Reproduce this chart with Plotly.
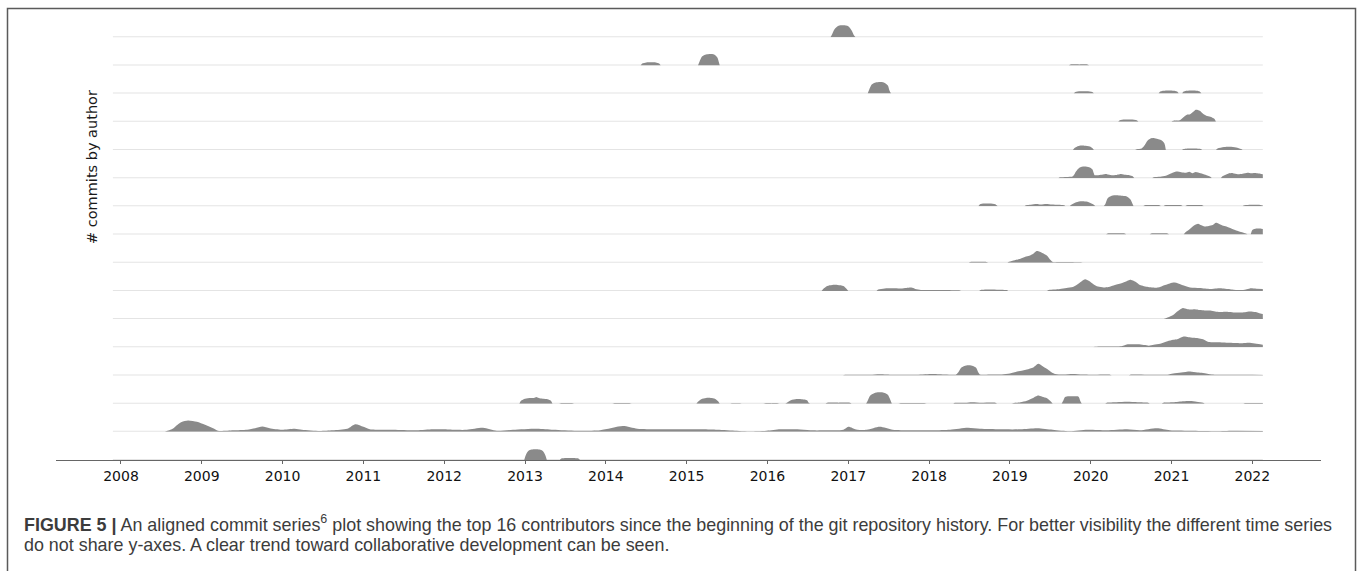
import plotly.graph_objects as go
from plotly.subplots import make_subplots

# Commit activity (smoothed commits per week) for the 16 most active authors,
# listed from the top row to the bottom row. Dates are decimal years.
YEARS = list(range(2008, 2023))
HISTORY_START, HISTORY_END = 2007.90, 2022.13

t0 = [2016.78, 2016.80, 2016.83, 2016.88, 2016.94, 2017.00, 2017.04, 2017.07, 2017.09]
v0 = [0, 3, 8, 11.5, 12, 11, 7, 2, 0]

t1 = [2014.43, 2014.45, 2014.50, 2014.56, 2014.62, 2014.66, 2014.68,
      2015.14, 2015.16, 2015.19, 2015.24, 2015.29, 2015.34, 2015.38, 2015.40, 2015.41,
      2019.73, 2019.75, 2019.86, 2019.96, 2019.98]
v1 = [0, 2, 3, 3.2, 3, 2, 0,
      0, 4, 9, 11, 11.5, 11, 8, 3, 0,
      0, 0.8, 1, 0.8, 0]

t2 = [2017.24, 2017.26, 2017.29, 2017.34, 2017.39, 2017.44, 2017.49, 2017.51, 2017.53,
      2019.79, 2019.81, 2019.87, 2019.95, 2020.02, 2020.04,
      2020.84, 2020.86, 2020.93, 2021.00, 2021.07, 2021.09,
      2021.13, 2021.15, 2021.22, 2021.29, 2021.35, 2021.37]
v2 = [0, 4, 9, 11, 11.5, 11, 8, 3, 0,
      0, 1.5, 2.3, 2.3, 1.5, 0,
      0, 2, 3, 3, 2, 0,
      0, 2, 3, 3, 2, 0]

t3 = [2020.34, 2020.36, 2020.42, 2020.50, 2020.57, 2020.59,
      2021.00, 2021.02, 2021.10, 2021.17, 2021.19, 2021.23, 2021.27, 2021.30, 2021.35,
      2021.39, 2021.43, 2021.48, 2021.53, 2021.55]
v3 = [0, 1.5, 2.2, 2.2, 1.5, 0,
      0, 1, 1.5, 6, 7, 7.5, 10, 12, 11,
      8, 6, 5, 3, 0]

t4 = [2019.78, 2019.80, 2019.85, 2019.92, 2019.99, 2020.02, 2020.04,
      2020.55, 2020.57, 2020.63, 2020.67, 2020.70, 2020.74, 2020.78, 2020.83, 2020.87, 2020.91, 2020.93,
      2021.13, 2021.15, 2021.25, 2021.36, 2021.38,
      2021.55, 2021.57, 2021.65, 2021.72, 2021.80, 2021.86, 2021.88]
v4 = [0, 2, 4, 4.3, 3.5, 2, 0,
      0, 0.8, 1.5, 5, 9, 11.5, 12, 11, 10, 7, 0,
      0, 1, 1.5, 1, 0,
      0, 1.5, 3, 3.3, 2.5, 1, 0]

t5 = [2019.60, 2019.62, 2019.70, 2019.78, 2019.82, 2019.86, 2019.92, 2019.98, 2020.02, 2020.05,
      2020.08, 2020.14, 2020.20, 2020.26, 2020.31, 2020.36, 2020.42, 2020.48, 2020.52, 2020.54,
      2020.76, 2020.78, 2020.86, 2020.93, 2021.00, 2021.06, 2021.12, 2021.18, 2021.22, 2021.26,
      2021.30, 2021.36, 2021.42, 2021.48, 2021.50,
      2021.61, 2021.63, 2021.70, 2021.76, 2021.82, 2021.88, 2021.94, 2021.99, 2022.05, 2022.10, 2022.13]
v5 = [0, 0.8, 1.2, 2, 7, 10.5, 11.6, 11, 9, 3,
      3, 3.5, 4, 3, 3.2, 4, 3.5, 3, 2, 0,
      0, 1, 1.5, 2.5, 5, 6.6, 6, 5.5, 6.5, 5,
      6.2, 5, 3.5, 1.5, 0,
      0, 2, 4.5, 5, 4, 4.5, 5.5, 5, 5, 4.5, 4]

t6 = [2018.61, 2018.63, 2018.68, 2018.75, 2018.82, 2018.85,
      2019.18, 2019.20, 2019.26, 2019.33, 2019.38, 2019.45, 2019.52, 2019.60, 2019.67, 2019.69,
      2019.74, 2019.76, 2019.82, 2019.89, 2019.96, 2020.03, 2020.06,
      2020.16, 2020.18, 2020.21, 2020.26, 2020.32, 2020.38, 2020.44, 2020.49, 2020.52, 2020.53,
      2020.65, 2020.67, 2020.76, 2020.85, 2020.87,
      2020.90, 2020.92, 2021.02, 2021.12, 2021.14,
      2021.17, 2021.19, 2021.28, 2021.38, 2021.40,
      2021.88, 2021.90, 2022.00, 2022.10, 2022.13]
v6 = [0, 2, 2.7, 2.7, 2, 0,
      0, 1, 1.5, 2.3, 1.8, 2.3, 1.8, 1.5, 1, 0,
      0, 1.5, 4, 5, 4.5, 2, 0,
      0, 2, 8, 10.5, 11, 10.5, 10, 7, 2, 0,
      0, 1, 1.2, 1, 0,
      0, 1, 1.2, 1, 0,
      0, 1, 1.2, 1, 0,
      0, 1, 1.5, 1.3, 0.8]

t7 = [2020.19, 2020.21, 2020.31, 2020.42, 2020.44,
      2020.73, 2020.75, 2020.85, 2020.95, 2020.97,
      2021.15, 2021.17, 2021.22, 2021.27, 2021.33, 2021.36, 2021.41, 2021.46, 2021.51,
      2021.55, 2021.58, 2021.63, 2021.68, 2021.74, 2021.80, 2021.86, 2021.92, 2021.94,
      2021.98, 2022.00, 2022.05, 2022.10, 2022.13]
v7 = [0, 1, 1.2, 1, 0,
      0, 1, 1.2, 1, 0,
      0, 2, 5, 8.5, 10.7, 9.5, 8, 8.5, 9.5,
      11.7, 11, 9, 8, 6, 4, 2.5, 1, 0,
      0, 4.5, 6, 6, 5.5]

t8 = [2018.49, 2018.51, 2018.60, 2018.71, 2018.73,
      2018.97, 2018.99, 2019.06, 2019.13, 2019.19, 2019.24, 2019.29, 2019.33, 2019.37,
      2019.41, 2019.46, 2019.50, 2019.53, 2019.60, 2019.70, 2019.80, 2019.88, 2019.90]
v8 = [0, 0.8, 1, 0.8, 0,
      0, 1, 2.5, 4, 6, 7, 9, 11.7, 11,
      9.5, 7, 3, 0.8, 0.6, 0.6, 0.5, 0.4, 0]

t9 = [2016.67, 2016.69, 2016.74, 2016.80, 2016.87, 2016.94, 2016.98, 2017.00,
      2017.35, 2017.37, 2017.45, 2017.55, 2017.65, 2017.72, 2017.78, 2017.83, 2017.90,
      2018.00, 2018.10, 2018.20, 2018.30, 2018.38, 2018.40,
      2018.62, 2018.64, 2018.75, 2018.86, 2018.96, 2018.98,
      2019.46, 2019.48, 2019.55, 2019.62, 2019.70, 2019.78, 2019.86, 2019.93, 2019.98, 2020.03,
      2020.09, 2020.16, 2020.22, 2020.30, 2020.39, 2020.45, 2020.50, 2020.56, 2020.61, 2020.71,
      2020.77, 2020.83, 2020.92, 2020.98, 2021.04, 2021.13, 2021.23, 2021.35, 2021.48, 2021.56,
      2021.63, 2021.70, 2021.75, 2021.85, 2021.92, 2021.97, 2022.05, 2022.13]
v9 = [0, 2, 5, 6, 6, 5, 2, 0,
      0, 1.5, 2.5, 2.7, 2.5, 3, 3.3, 2, 1,
      1, 0.8, 0.8, 0.6, 0.5, 0,
      0, 1, 1.5, 1.2, 0.8, 0,
      0, 1, 1.5, 2, 3, 4, 8, 11.7, 10, 7,
      4.3, 3.5, 4, 6, 8, 10, 11, 9, 6, 4,
      3.5, 3.3, 6, 7.5, 8.3, 6, 3.5, 3, 2, 2.5,
      2.5, 2, 1.5, 0.8, 1.5, 2.5, 2.2, 2]

t10 = [2020.90, 2020.92, 2020.97, 2021.02, 2021.08, 2021.14, 2021.19, 2021.23, 2021.29, 2021.35,
       2021.41, 2021.48, 2021.54, 2021.60, 2021.66, 2021.72, 2021.78, 2021.85, 2021.91, 2021.97,
       2022.04, 2022.10, 2022.13]
v10 = [0, 0.5, 2, 4, 8, 11, 10, 9.5, 9.8, 9,
       8.6, 8.5, 7.5, 7, 7.3, 7, 6.5, 6.5, 6.8, 7.6,
       7, 5.5, 5]

t11 = [2020.03, 2020.05, 2020.20, 2020.38, 2020.40, 2020.46, 2020.53, 2020.62, 2020.69, 2020.72,
       2020.78, 2020.86, 2020.95, 2021.02, 2021.07, 2021.15, 2021.21, 2021.27, 2021.33, 2021.39,
       2021.45, 2021.50, 2021.56, 2021.64, 2021.72, 2021.80, 2021.85, 2021.91, 2021.97, 2022.05,
       2022.13]
v11 = [0, 0.5, 0.8, 1, 1.5, 3, 3, 2.8, 2, 1.5,
       2.5, 3.5, 6, 7.5, 8, 10.7, 10, 9.5, 9, 8,
       5.5, 5, 5, 4.8, 4.5, 4.2, 4, 4.3, 4.5, 3.5,
       2.5]

t12 = [2016.93, 2016.95, 2017.10, 2017.27, 2017.39, 2017.55, 2017.70, 2017.85, 2018.05, 2018.20,
       2018.33, 2018.36, 2018.40, 2018.46, 2018.52, 2018.58, 2018.61, 2018.63, 2018.75, 2018.90,
       2019.00, 2019.09, 2019.16, 2019.21, 2019.29, 2019.35, 2019.41, 2019.47, 2019.52, 2019.56,
       2019.66, 2019.78, 2019.90, 2020.05, 2020.24, 2020.26,
       2020.47, 2020.49, 2020.70, 2020.95, 2021.02, 2021.12, 2021.23, 2021.32, 2021.39, 2021.50,
       2021.65, 2021.80, 2022.00, 2022.13]
v12 = [0, 0.5, 0.6, 0.8, 1.3, 0.8, 0.8, 0.8, 1.5, 1,
       0.8, 3, 8, 10, 10, 8, 3, 1, 1, 1,
       2, 4, 5, 6, 8, 11.7, 9, 6, 3, 1.5,
       1, 1.5, 1, 0.8, 0.8, 0,
       0, 0.7, 0.7, 0.8, 2, 3, 4, 3, 2.5, 1,
       0.6, 0.6, 0.6, 0.5]

t13 = [2012.93, 2012.95, 2013.00, 2013.07, 2013.11, 2013.14, 2013.17, 2013.22, 2013.28, 2013.32, 2013.34,
       2013.42, 2013.44, 2013.52, 2013.59, 2013.61,
       2014.08, 2014.10, 2014.20, 2014.30, 2014.32,
       2015.12, 2015.14, 2015.18, 2015.24, 2015.30, 2015.35, 2015.39, 2015.41,
       2015.54, 2015.56, 2015.61, 2015.66, 2015.68,
       2015.95, 2015.97, 2016.05, 2016.13, 2016.15,
       2016.22, 2016.24, 2016.29, 2016.36, 2016.43, 2016.49, 2016.51, 2016.53,
       2016.72, 2016.74, 2016.88, 2017.02, 2017.04,
       2017.22, 2017.24, 2017.27, 2017.32, 2017.38, 2017.44, 2017.49, 2017.52, 2017.54,
       2017.62, 2017.64, 2017.80, 2017.95, 2017.97,
       2018.30, 2018.32, 2018.45, 2018.53, 2018.65, 2018.82, 2018.84,
       2019.02, 2019.04, 2019.13, 2019.21, 2019.28, 2019.34, 2019.40, 2019.46, 2019.51, 2019.53,
       2019.64, 2019.66, 2019.68, 2019.73, 2019.79, 2019.85, 2019.87, 2019.89,
       2020.18, 2020.20, 2020.32, 2020.45, 2020.58, 2020.71, 2020.73,
       2020.88, 2020.90, 2021.02, 2021.15, 2021.23, 2021.31, 2021.39, 2021.41,
       2021.89, 2021.91, 2022.02, 2022.13]
v13 = [0, 3, 5, 5.7, 5.7, 6.7, 5.7, 5, 4.5, 3, 0,
       0, 0.5, 0.6, 0.5, 0,
       0, 0.5, 0.6, 0.5, 0,
       0, 2, 4.5, 5.7, 5.7, 5, 2.5, 0,
       0, 0.3, 0.4, 0.3, 0,
       0, 0.4, 0.5, 0.4, 0,
       0, 1, 3.5, 4.7, 4.5, 3.5, 1, 0,
       0, 0.8, 1, 0.8, 0,
       0, 3, 8, 10.5, 11.3, 11, 9, 4, 0,
       0, 0.5, 0.6, 0.5, 0,
       0, 0.8, 1, 1.5, 1, 0.8, 0,
       0, 0.5, 1.5, 3, 5.5, 8, 7, 5.5, 2, 0,
       0, 3, 6.5, 7.3, 7.3, 7, 3, 0,
       0, 1, 1.5, 2, 1.5, 1, 0,
       0, 1, 1.5, 2.5, 2.7, 2, 1, 0,
       0, 0.6, 0.6, 0.6]

t14 = [2008.54, 2008.56, 2008.64, 2008.70, 2008.75, 2008.83, 2008.94, 2009.04, 2009.14, 2009.20,
       2009.39, 2009.56, 2009.66, 2009.75, 2009.84, 2009.99, 2010.15, 2010.24, 2010.46, 2010.62,
       2010.80, 2010.90, 2011.00, 2011.08, 2011.37, 2011.66, 2011.86, 2011.99, 2012.13, 2012.28,
       2012.48, 2012.65, 2012.85, 2013.15, 2013.35, 2013.64, 2013.93, 2014.21, 2014.39, 2014.63,
       2014.96, 2015.20, 2015.38, 2015.62, 2015.75, 2015.99, 2016.16, 2016.37, 2016.53, 2016.74,
       2016.94, 2017.00, 2017.11, 2017.23, 2017.39, 2017.55, 2017.76, 2018.05, 2018.26, 2018.48,
       2018.63, 2018.88, 2019.13, 2019.34, 2019.53, 2019.74, 2019.96, 2020.20, 2020.45, 2020.61,
       2020.82, 2020.98, 2021.27, 2021.56, 2021.76, 2022.13]
v14 = [0, 0.5, 3, 7, 9.7, 11.3, 10, 7, 3.5, 1,
       1.5, 2, 3.5, 5.3, 3.5, 2, 3, 2, 0.8, 1.5,
       3, 7.6, 5, 2.5, 2, 1.5, 2.5, 2.5, 2, 2,
       4, 1, 2, 3, 2, 1, 1.5, 5.7, 3, 2.5,
       2.5, 2.5, 2, 1, 0.3, 1, 2.5, 2.5, 1.5, 1.5,
       2, 5, 2, 2, 5, 2, 1.5, 1.5, 2, 4,
       3, 2.5, 2.5, 3.5, 2, 0.5, 2, 1.5, 2.5, 1.5,
       3.5, 1.5, 1, 0.5, 1, 0.8]

t15 = [2012.99, 2013.01, 2013.04, 2013.08, 2013.13, 2013.18, 2013.22, 2013.25, 2013.27,
       2013.43, 2013.45, 2013.56, 2013.66, 2013.68]
v15 = [0, 5, 9, 10.5, 10.8, 10.5, 9, 5, 0,
       0, 1.5, 2, 1.5, 0]

authors = [(t0, v0), (t1, v1), (t2, v2), (t3, v3), (t4, v4), (t5, v5), (t6, v6), (t7, v7),
           (t8, v8), (t9, v9), (t10, v10), (t11, v11), (t12, v12), (t13, v13), (t14, v14),
           (t15, v15)]

FILL = "#8a8a8a"
BASELINE = "#e4e4e4"
ROW_YMAX = 28.2
X_RANGE = [2007.196, 2022.85]


def split_idle_gaps(t, v):
    """Insert gaps between bursts of activity (two consecutive zero samples),
    so that each burst is filled on its own."""
    xs, ys = [], []
    for k in range(len(t)):
        xs.append(t[k])
        ys.append(v[k])
        if k + 1 < len(t) and v[k] == 0 and v[k + 1] == 0:
            xs.append(None)
            ys.append(None)
    return xs, ys


n_rows = len(authors)
fig = make_subplots(rows=n_rows, cols=1, shared_xaxes=True, vertical_spacing=0)

for i, (t, v) in enumerate(authors, start=1):
    assert len(t) == len(v)
    xs, ys = split_idle_gaps(t, v)
    # zero line of this author's own axis (half of it falls inside the row)
    fig.add_trace(go.Scatter(x=[HISTORY_START, HISTORY_END], y=[0, 0], mode="lines",
                             line=dict(color=BASELINE, width=2), hoverinfo="skip",
                             showlegend=False), row=i, col=1)
    fig.add_trace(go.Scatter(x=xs, y=ys, mode="lines", fill="tozeroy", fillcolor=FILL,
                             connectgaps=False,
                             line=dict(color=FILL, width=0, shape="spline", smoothing=0.7),
                             showlegend=False), row=i, col=1)
    fig.update_yaxes(range=[0, ROW_YMAX], visible=False, row=i, col=1)
    fig.update_xaxes(range=X_RANGE, showgrid=False, zeroline=False, row=i, col=1)
    if i < n_rows:
        fig.update_xaxes(visible=False, row=i, col=1)

fig.update_xaxes(row=n_rows, col=1, visible=True, showline=True, linecolor="#666666",
                 linewidth=1, ticks="outside", ticklen=3, tickcolor="#666666",
                 tickvals=YEARS, ticktext=[str(y) for y in YEARS],
                 tickfont=dict(family="DejaVu Sans", size=14, color="#111111"))

W, H = 1357, 571
ML, MR, MT, MB = 56, 36, 9, 111
PW, PH = W - ML - MR, H - MT - MB


def px(xp):
    return (xp - ML) / PW


def py(yp):
    return (H - MB - yp) / PH


fig.add_annotation(text="# commits by author", textangle=-90, x=px(82), y=py(167),
                   xref="paper", yref="paper", showarrow=False,
                   font=dict(family="DejaVu Sans", size=14.5, color="#1a1a1a"))

caption_font = dict(family="Liberation Sans", size=17.9, color="#3c3c3c")
fig.add_annotation(
    text="<b>FIGURE 5 |</b> An aligned commit series<sup>6</sup> plot showing the top 16 "
         "contributors since the beginning of the git repository history. For better "
         "visibility the different time series",
    x=px(22), y=py(523), xref="paper", yref="paper", xanchor="left", yanchor="middle",
    showarrow=False, font=caption_font)
fig.add_annotation(
    text="do not share y-axes. A clear trend toward collaborative development can be seen.",
    x=px(22), y=py(545), xref="paper", yref="paper", xanchor="left", yanchor="middle",
    showarrow=False, font=caption_font)

# frame around the figure, open at the bottom
x0, x1, yt, yb = px(7.5), px(1355.5), py(8.5), py(590)
fig.add_shape(type="path", xref="paper", yref="paper",
              path=f"M {x0},{yb} L {x0},{yt} L {x1},{yt} L {x1},{yb}",
              line=dict(color="#5a5a5a", width=1.5))

fig.update_layout(width=W, height=H, margin=dict(l=ML, r=MR, t=MT, b=MB),
                  plot_bgcolor="white", paper_bgcolor="white", showlegend=False)

fig.write_html("out.html")
